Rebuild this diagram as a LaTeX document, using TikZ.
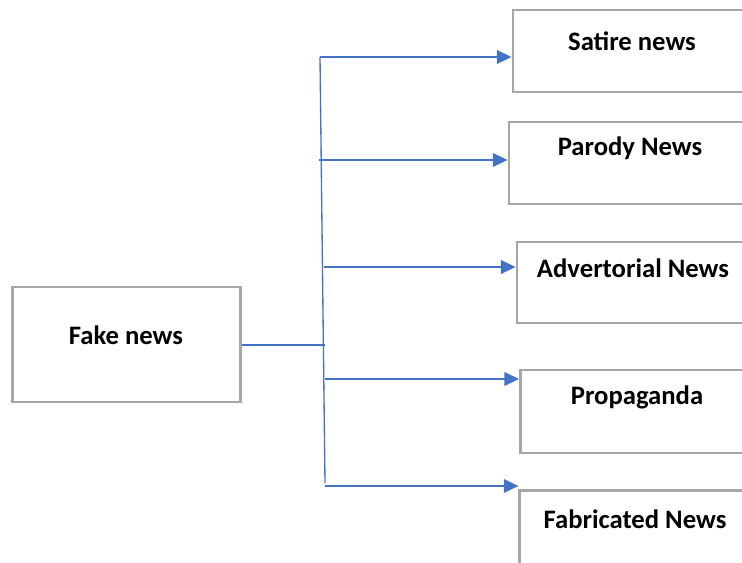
\documentclass[tikz,border=0pt]{standalone}
\usepackage{fontspec}
\setmainfont{Carlito}
\usetikzlibrary{arrows.meta,positioning,calc}
\definecolor{FNCanvas}{HTML}{FFFFFF}
\definecolor{FNFrame}{HTML}{A6A6A6}
\definecolor{FNBlue}{HTML}{4472C4}
\definecolor{FNInk}{HTML}{000000}
\tikzset{
  branch/.style={-{Triangle[length=11pt,width=10pt]},FNBlue,line width=1.8pt},
  spine/.style={FNBlue,line width=1pt},
  box/.style={draw=FNFrame,line width=1.8pt,fill=FNCanvas,inner sep=0pt},
  boxtext/.style={text=FNInk,font=\fontsize{20}{23}\selectfont\bfseries,align=center},
}

\begin{document}
\begin{tikzpicture}[x=0.75pt,y=-0.75pt]
    \useasboundingbox (0,0) rectangle (742,563);
    \clip (0,0) rectangle (742,563);

    % root
    \node[box,minimum width=171pt,minimum height=86pt] (fake) at (126.5,344.5) {};
    \node[boxtext] (fakelbl) at (126,335) {Fake news};

    % categories
    \node[box,minimum width=178pt,minimum height=61.5pt] (satire) at (631.5,51) {};
    \node[boxtext] (satirelbl) at (632,41) {Satire news};
    \node[box,minimum width=181pt,minimum height=61.5pt] (parody) at (629.5,163) {};
    \node[boxtext] (parodylbl) at (630,148) {Parody News};
    \node[box,minimum width=175pt,minimum height=61pt] (advert) at (633.5,282.5) {};
    \node[boxtext] (advertlbl) at (633,268) {Advertorial News};
    \node[box,minimum width=175pt,minimum height=62pt] (propa) at (637,411.5) {};
    \node[boxtext] (propalbl) at (637,397) {Propaganda};
    \node[box,minimum width=173pt,minimum height=62pt] (fabric) at (635,532) {};
    \node[boxtext] (fabriclbl) at (635,519) {Fabricated News};

    % tree lines
    \coordinate (spinetop) at (320,57);
    \coordinate (spinebot) at (325,483);
    \coordinate (hub) at (325,345);
    \draw[spine] (spinetop) -- (spinebot);
    \draw[spine] (fake.east |- hub) -- (hub);

    \coordinate (b1) at (320,57);
    \coordinate (b2) at (319,160);
    \coordinate (b3) at (324,267);
    \coordinate (b4) at (325,379);
    \coordinate (b5) at (325,486);
    \draw[branch] (b1) -- (b1 -| satire.west);
    \draw[branch] (b2) -- (b2 -| parody.west);
    \draw[branch] (b3) -- (b3 -| advert.west);
    \draw[branch] (b4) -- (b4 -| propa.west);
    \draw[branch] (b5) -- (b5 -| fabric.west);
\end{tikzpicture}
\end{document}
